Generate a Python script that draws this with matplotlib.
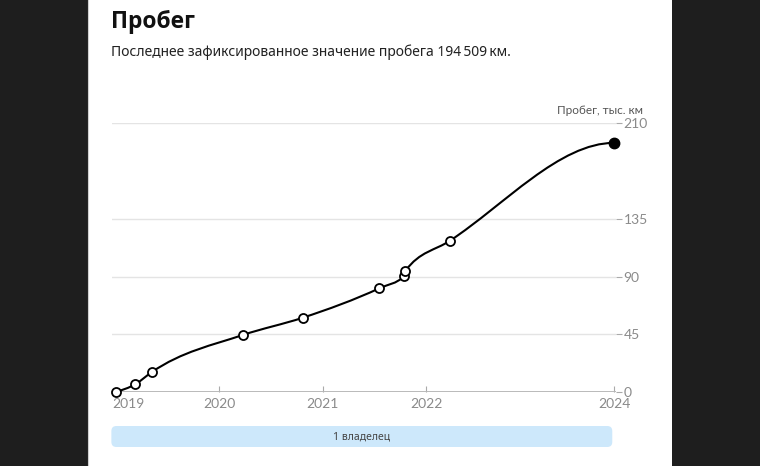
import numpy as np
import matplotlib.pyplot as plt
from matplotlib.path import Path
from matplotlib.patches import PathPatch, Rectangle, FancyBboxPatch
from matplotlib.transforms import IdentityTransform

# даты замеров (доли года) и пробег, тыс. км
dates = [2019.00, 2019.19, 2019.35, 2020.23, 2020.81, 2021.55, 2021.79, 2021.80, 2022.23, 2023.82]
mileage = [0.0, 6.0, 15.5, 44.5, 58.0, 81.0, 90.5, 94.5, 118.0, 194.509]

year_ticks = [2019.12, 2020, 2021, 2022, 2023.82]
year_labels = ['2019', '2020', '2021', '2022', '2024']
mileage_ticks = [0, 45, 90, 135, 210]

owners = ['1 владелец']
owner_start = [2018.96]
owner_end = [2023.80]

cyr = ['Noto Sans', 'DejaVu Sans']
num = ['Lato', 'Noto Sans', 'DejaVu Sans']


def monotone_path(x, y):
    # кривая как monotoneX: кубические Безье между точками
    x = np.asarray(x, float)
    y = np.asarray(y, float)
    h = np.diff(x)
    s = np.diff(y) / h
    t = np.zeros(len(x))
    for i in range(1, len(x) - 1):
        p = (s[i - 1] * h[i] + s[i] * h[i - 1]) / (h[i - 1] + h[i])
        t[i] = (np.sign(s[i - 1]) + np.sign(s[i])) * min(abs(s[i - 1]), abs(s[i]), 0.5 * abs(p))
    t[0] = (3 * s[0] - t[1]) / 2
    t[-1] = 0.0
    verts = [(x[0], y[0])]
    codes = [Path.MOVETO]
    for i in range(len(x) - 1):
        d = h[i] / 3
        verts += [(x[i] + d, y[i] + d * t[i]),
                  (x[i + 1] - d, y[i + 1] - d * t[i + 1]),
                  (x[i + 1], y[i + 1])]
        codes += [Path.CURVE4] * 3
    return Path(verts, codes)


W, H = 760, 466
fig = plt.figure(figsize=(W / 100, H / 100), dpi=100)
fig.patch.set_facecolor('#1e1e1e')
fig.add_artist(Rectangle((88 / W, 0), (672 - 88) / W, 1, transform=fig.transFigure,
                         facecolor='white', edgecolor='none', zorder=0))
fig.add_artist(plt.Line2D([88 / W, 88 / W], [0, 1], transform=fig.transFigure,
                          color='#cfcfcf', lw=0.8, zorder=0))

fig.text(111 / W, 1 - 22 / H, 'Пробег', fontsize=16.5, fontweight='bold',
         family=['Open Sans', 'DejaVu Sans'], color='#111111', va='center', ha='left')
fig.text(111 / W, 1 - 52 / H, 'Последнее зафиксированное значение пробега 194\u2009509\u2009км.',
         fontsize=10, family=cyr, color='#222222', va='center', ha='left')

ax = fig.add_axes([112 / W, 1 - 392 / H, (616 - 112) / W, (392 - 123) / H])
ax.set_zorder(1)
ax.set_facecolor('none')
ax.set_xlim(2018.966, 2023.836)
ax.set_ylim(0, 210)
for sp in ax.spines.values():
    sp.set_visible(False)

ax.set_yticks(mileage_ticks)
ax.yaxis.tick_right()
ax.yaxis.grid(True, color='#e4e4e4', lw=1)
ax.set_axisbelow(True)
ax.tick_params(axis='y', length=4, width=0.8, color='#aaaaaa', pad=1.5,
               labelsize=10, labelcolor='#8a8a8a')
ax.set_xticks(year_ticks)
ax.set_xticklabels(year_labels)
ax.tick_params(axis='x', direction='in', length=4, width=0.8, color='#aaaaaa', pad=4,
               labelsize=10, labelcolor='#8a8a8a')
ax.xaxis.get_major_ticks()[0].tick1line.set_visible(False)
for lab in ax.get_xticklabels() + ax.get_yticklabels():
    lab.set_family(num)
ax.axhline(0, color='#b4b4b4', lw=2, zorder=1)

fig.text(643 / W, 1 - 111 / H, 'Пробег, тыс. км', fontsize=8.5, family=num,
         color='#555555', ha='right', va='center')

ax.add_patch(PathPatch(monotone_path(dates, mileage), facecolor='none',
                       edgecolor='black', lw=1.5, zorder=3, clip_on=False))
ax.plot(dates[:-1], mileage[:-1], 'o', mfc='white', mec='black', ms=6.5, mew=1.3,
        zorder=4, clip_on=False)
ax.plot(dates[-1:], mileage[-1:], 'o', color='black', ms=7.5, zorder=4, clip_on=False)

# полоса владельцев
for name, a, b in zip(owners, owner_start, owner_end):
    x0 = ax.transData.transform((a, 0))[0]
    x1 = ax.transData.transform((b, 0))[0]
    y0, y1 = H - 447, H - 426
    fig.add_artist(FancyBboxPatch((x0, y0), x1 - x0, y1 - y0,
                                  boxstyle='round,pad=0,rounding_size=5',
                                  transform=IdentityTransform(),
                                  facecolor='#cde8fb', edgecolor='none', zorder=2))
    fig.text((x0 + x1) / 2 / W, (y0 + y1) / 2 / H, name, fontsize=7.5, family=cyr,
             color='#444444', ha='center', va='center', zorder=3)

fig.savefig('out.png', dpi=100, facecolor=fig.get_facecolor())
